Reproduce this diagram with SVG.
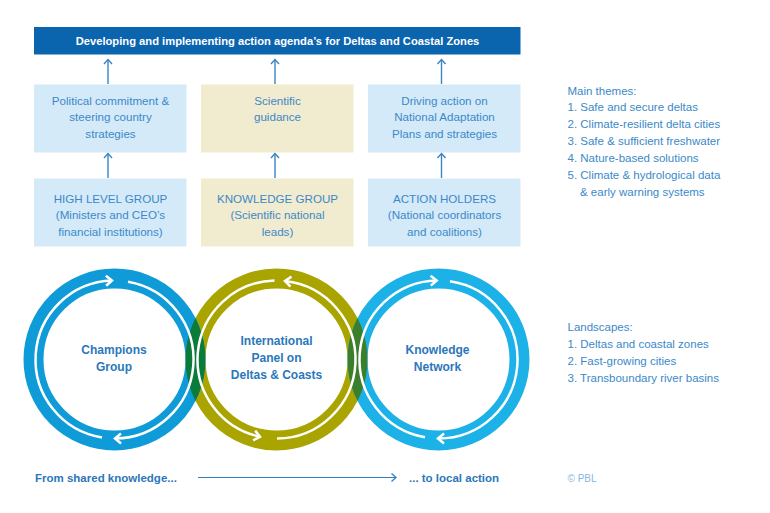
<svg xmlns="http://www.w3.org/2000/svg" width="770" height="513" viewBox="0 0 770 513">
<style>
  .bx { fill: #d4eaf8; }
  .bg { fill: #f1ebcf; }
  .t { font-family: "Liberation Sans", Arial, sans-serif; font-size: 11.6px; fill: #3b89c9; text-anchor: middle; }
  .side { font-family: "Liberation Sans", Arial, sans-serif; font-size: 11.5px; fill: #3b89c9; }
  .ct { font-family: "Liberation Sans", Arial, sans-serif; font-size: 12px; font-weight: bold; fill: #2b77bb; text-anchor: middle; }
  .bt { font-family: "Liberation Sans", Arial, sans-serif; font-size: 11.5px; font-weight: bold; fill: #2b77bb; }
  .up { stroke: #3b85c4; stroke-width: 1.4; fill: none; marker-end: url(#ah); }
  .wl { stroke: #ffffff; stroke-width: 2.5; fill: none; marker-end: url(#wh); }
  .ring { fill: none; stroke-width: 20; }
</style>
<defs>
  <marker id="ah" markerUnits="userSpaceOnUse" viewBox="-8 -6 10 12" refX="0" refY="0" markerWidth="10" markerHeight="12" orient="auto" overflow="visible">
    <path d="M-4.5,-4 L0,0 L-4.5,4" fill="none" stroke="#3b85c4" stroke-width="1.4"/>
  </marker>
  <marker id="wh" markerUnits="userSpaceOnUse" viewBox="-10 -7 12 14" refX="0" refY="0" markerWidth="12" markerHeight="14" orient="auto" overflow="visible">
    <path d="M-6,-5 L0,0 L-6,5" fill="none" stroke="#ffffff" stroke-width="2.5"/>
  </marker>
  <clipPath id="clipL">
    <path clip-rule="evenodd" d="M23.5,359.5 a91,91 0 1,0 182,0 a91,91 0 1,0 -182,0 Z M43.5,359.5 a71,71 0 1,0 142,0 a71,71 0 1,0 -142,0 Z"/>
  </clipPath>
  <clipPath id="clipR">
    <path clip-rule="evenodd" d="M347.5,359.5 a91,91 0 1,0 182,0 a91,91 0 1,0 -182,0 Z M367.5,359.5 a71,71 0 1,0 142,0 a71,71 0 1,0 -142,0 Z"/>
  </clipPath>
</defs>

<g id="agenda">
  <rect x="34" y="27" width="486.5" height="27.5" fill="#0b64ae"/>
  <text x="277.5" y="44.5" text-anchor="middle" font-family="'Liberation Sans', Arial, sans-serif" font-size="11.2" font-weight="bold" fill="#ffffff">Developing and implementing action agenda’s for Deltas and Coastal Zones</text>
</g>

<g id="political">
  <rect class="bx" x="34" y="84.5" width="152.5" height="68"/>
  <text class="t" x="110.5" y="104.5">Political commitment &amp;</text>
  <text class="t" x="110.5" y="121">steering country</text>
  <text class="t" x="110.5" y="137.5">strategies</text>
</g>
<g id="scientific">
  <rect class="bg" x="201" y="84.5" width="152.5" height="68"/>
  <text class="t" x="277.5" y="104.5">Scientific</text>
  <text class="t" x="277.5" y="121">guidance</text>
</g>
<g id="driving">
  <rect class="bx" x="368" y="84.5" width="152.5" height="68"/>
  <text class="t" x="444.5" y="104.5">Driving action on</text>
  <text class="t" x="444.5" y="121">National Adaptation</text>
  <text class="t" x="444.5" y="137.5">Plans and strategies</text>
</g>

<g id="highlevel">
  <rect class="bx" x="34" y="178.5" width="152.5" height="68"/>
  <text class="t" x="110.5" y="202.5">HIGH LEVEL GROUP</text>
  <text class="t" x="110.5" y="219">(Ministers and CEO’s</text>
  <text class="t" x="110.5" y="235.5">financial institutions)</text>
</g>
<g id="knowledgegroup">
  <rect class="bg" x="201" y="178.5" width="152.5" height="68"/>
  <text class="t" x="277.5" y="202.5">KNOWLEDGE GROUP</text>
  <text class="t" x="277.5" y="219">(Scientific national</text>
  <text class="t" x="277.5" y="235.5">leads)</text>
</g>
<g id="actionholders">
  <rect class="bx" x="368" y="178.5" width="152.5" height="68"/>
  <text class="t" x="444.5" y="202.5">ACTION HOLDERS</text>
  <text class="t" x="444.5" y="219">(National coordinators</text>
  <text class="t" x="444.5" y="235.5">and coalitions)</text>
</g>

<g id="connectors">
  <line class="up" x1="108" y1="84" x2="108" y2="59.5"/>
  <line class="up" x1="275" y1="84" x2="275" y2="59.5"/>
  <line class="up" x1="441.5" y1="84" x2="441.5" y2="59.5"/>
  <line class="up" x1="108" y1="178" x2="108" y2="153.5"/>
  <line class="up" x1="275" y1="178" x2="275" y2="153.5"/>
  <line class="up" x1="441.5" y1="178" x2="441.5" y2="153.5"/>
  <line x1="198" y1="477.5" x2="396" y2="477.5" stroke="#2e7fc0" stroke-width="1.2" marker-end="url(#ah)"/>
</g>

<g id="rings">
  <circle class="ring" cx="276.5" cy="359.5" r="81" stroke="#a9a400"/>
  <circle class="ring" cx="114.5" cy="359.5" r="81" stroke="#0f9bd7"/>
  <circle class="ring" cx="438.5" cy="359.5" r="81" stroke="#1cb1e7"/>
  <circle class="ring" cx="276.5" cy="359.5" r="81" stroke="#0a7b3b" clip-path="url(#clipL)"/>
  <circle class="ring" cx="276.5" cy="359.5" r="81" stroke="#3b7e2b" clip-path="url(#clipR)"/>
</g>

<g id="champions">
  <path class="wl" d="M102,437.5 A79,79 0 0,1 112,280.54"/>
  <path class="wl" d="M128,281.66 A79,79 0 0,1 115,438.5"/>
  <text class="ct" x="114" y="354">Champions</text>
  <text class="ct" x="114" y="371">Group</text>
</g>
<g id="panel">
  <path class="wl" d="M277,438.5 A79,79 0 0,0 285,280.96"/>
  <path class="wl" d="M274.5,280.53 A79,79 0 0,0 260,436.76"/>
  <text class="ct" x="276.5" y="345">International</text>
  <text class="ct" x="276.5" y="362">Panel on</text>
  <text class="ct" x="276.5" y="379">Deltas &amp; Coasts</text>
</g>
<g id="network">
  <path class="wl" d="M425,437.34 A79,79 0 0,1 436.7,280.52"/>
  <path class="wl" d="M450,281.34 A79,79 0 0,1 438,438.5"/>
  <text class="ct" x="437.5" y="354">Knowledge</text>
  <text class="ct" x="437.5" y="371">Network</text>
</g>

<g id="themes">
  <text class="side" x="567.5" y="94.5">Main themes:</text>
  <text class="side" x="567.5" y="111">1. Safe and secure deltas</text>
  <text class="side" x="567.5" y="128">2. Climate-resilient delta cities</text>
  <text class="side" x="567.5" y="145">3. Safe &amp; sufficient freshwater</text>
  <text class="side" x="567.5" y="162">4. Nature-based solutions</text>
  <text class="side" x="567.5" y="179">5. Climate &amp; hydrological data</text>
  <text class="side" x="580" y="196">&amp; early warning systems</text>
</g>
<g id="landscapes">
  <text class="side" x="567.5" y="331">Landscapes:</text>
  <text class="side" x="567.5" y="348">1. Deltas and coastal zones</text>
  <text class="side" x="567.5" y="365">2. Fast-growing cities</text>
  <text class="side" x="567.5" y="382">3. Transboundary river basins</text>
</g>
<g id="footer">
  <text class="bt" x="35" y="482">From shared knowledge...</text>
  <text class="bt" x="409" y="482">... to local action</text>
  <text x="567.5" y="482" font-family="'Liberation Sans', Arial, sans-serif" font-size="10" fill="#86b7df">© PBL</text>
</g>
</svg>
